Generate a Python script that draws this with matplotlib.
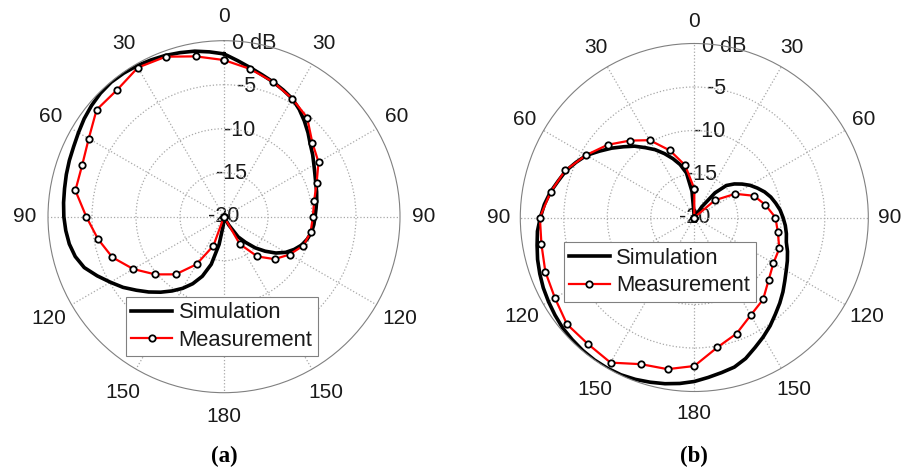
import numpy as np
import matplotlib.pyplot as plt

plt.rcParams['font.family'] = ['Liberation Sans', 'DejaVu Sans']

# angles measured clockwise from the top (0 deg), in degrees
ang_sim = list(range(0, 360, 5))
ang_meas = list(range(0, 360, 10))

# (a) pattern, dB
sim_a = [-1.5, -2.2, -2.8, -3.3, -3.7, -4.1, -4.5, -5.1, -5.8, -6.5, -7.2, -7.7,
         -8.2, -8.6, -8.9, -9.1, -9.3, -9.5, -9.65, -9.75, -9.9, -10.2, -10.6, -11.2,
         -11.9, -12.8, -13.9, -15.0, -16.2, -17.2, -18.9, -19.8, -20, -20, -20, -20,
         -20, -19.0, -16.8, -14.4, -12.8, -11.6, -10.6, -9.7, -8.8, -7.9, -7.0, -6.0,
         -5.1, -4.1, -3.1, -2.5, -2.15, -1.95, -1.8, -1.7, -1.6, -1.45, -1.3, -1.15,
         -0.9, -0.6, -0.35, -0.15, -0.05, -0.1, -0.2, -0.35, -0.5, -0.7, -0.9, -1.2]
meas_a = [-2.2, -2.95, -3.7, -4.5, -5.3, -6.9, -7.6, -8.8, -9.6, -9.9, -10.0, -10.4,
          -11.4, -12.5, -14.1, -16.4, -20, -20, -20, -20, -16.5, -13.75, -11.45, -9.8,
          -8.1, -6.5, -5.45, -4.35, -2.85, -2.85, -2.25, -1.1, -1.15, -0.43, -0.65, -1.5]

# (b) pattern, dB
sim_b = [-20, -20, -20, -20, -20, -20, -20, -18.5, -16.3, -14.8, -14.0, -13.3,
         -12.6, -12.0, -11.4, -10.9, -10.5, -10.1, -9.8, -9.5, -9.25, -9.05, -8.6, -8.2,
         -7.8, -7.3, -6.7, -6.1, -5.5, -4.8, -4.15, -3.5, -2.75, -2.2, -1.9, -1.55,
         -1.15, -0.85, -0.6, -0.4, -0.2, -0.05, 0, 0, -0.05, -0.15, -0.25, -0.45,
         -0.65, -0.85, -1.1, -1.35, -1.65, -1.9, -2.3, -2.7, -3.2, -3.8, -4.3, -5.0,
         -5.7, -6.7, -7.6, -8.5, -9.3, -10.2, -11.0, -11.9, -12.8, -13.7, -14.8, -17.0]
meas_b = [-16.7, -20, -20, -20, -20, -16.9, -14.56, -12.7, -11.7, -10.67, -10.25, -9.6,
          -9.5, -8.84, -7.7, -7.03, -5.8, -4.83, -2.93, -2.3, -2.06, -0.74, -1.0, -0.9,
          -1.5, -1.78, -2.16, -2.25, -3.22, -4.2, -5.65, -7.0, -8.46, -9.74, -11.8, -13.9]

grid_ang = list(range(0, 360, 30))
grid_lab = ['0', '30', '60', '90', '120', '150', '180', '150', '120', '90', '60', '30']
r_ticks = [0, -5, -10, -15, -20]
r_labels = ['0 dB', '-5', '-10', '-15', '-20']

txt = '#1a1a1a'
fig = plt.figure(figsize=(9.02, 4.73), dpi=100)


def panel(rect, sim, meas, lab_r, leg_xy, tag, tag_x):
    ax = fig.add_axes(rect, projection='polar')
    ax.set_theta_zero_location('N')
    ax.set_theta_direction(-1)
    ax.set_rlim(-20, 0)
    ax.set_thetagrids(grid_ang, labels=[''] * len(grid_ang))
    ax.set_rgrids([-15, -10, -5], labels=[''] * 3)
    ax.grid(True, color='#a8a8a8', linestyle=':', linewidth=0.9)
    ax.tick_params(length=0)
    ax.spines['polar'].set_color('#808080')
    ax.spines['polar'].set_linewidth(0.8)

    th = np.deg2rad(ang_sim + [360])
    ax.plot(th, sim + [sim[0]], color='black', lw=2.6, label='Simulation',
            solid_joinstyle='round')
    th = np.deg2rad(ang_meas + [360])
    ax.plot(th, meas + [meas[0]], color='red', lw=1.6, marker='o', ms=4.6,
            mfc='white', mec='black', mew=1.3, label='Measurement')

    for a, s in zip(grid_ang, grid_lab):
        extra = 0.35 if len(s) == 3 and a not in (180,) else 0
        ax.text(np.deg2rad(a), lab_r + extra, s, ha='center', va='center',
                fontsize=15, color=txt)
    for r, s in zip(r_ticks, r_labels):
        a = 0 if r == -20 else 10
        ax.text(np.deg2rad(a), r, s, ha='center', va='center', fontsize=15.5,
                color=txt, zorder=1)

    leg = ax.legend(loc='upper left', bbox_to_anchor=leg_xy,
                    bbox_transform=fig.transFigure, fontsize=15.8, fancybox=False,
                    framealpha=1, edgecolor='#808080', borderaxespad=0,
                    handlelength=1.85, handletextpad=0.3, borderpad=0.25,
                    labelspacing=0.3)
    leg.get_frame().set_linewidth(0.8)
    for t in leg.get_texts():
        t.set_color(txt)

    fig.text(tag_x, 1 - 456.7 / 473, tag, ha='center', va='center',
             family='Liberation Serif', weight='bold', fontsize=16.5, color='black')
    return ax


panel([48 / 902, 1 - 392.7 / 473, 352 / 902, 352 / 473], sim_a, meas_a, 2.7,
      (126 / 902, 1 - 296.7 / 473), '(a)', 224 / 902)
panel([520.3 / 902, 1 - 391.5 / 473, 348 / 902, 348 / 473], sim_b, meas_b, 2.5,
      (563.7 / 902, 1 - 242.3 / 473), '(b)', 694.3 / 902)

fig.savefig('out.png', dpi=100)
